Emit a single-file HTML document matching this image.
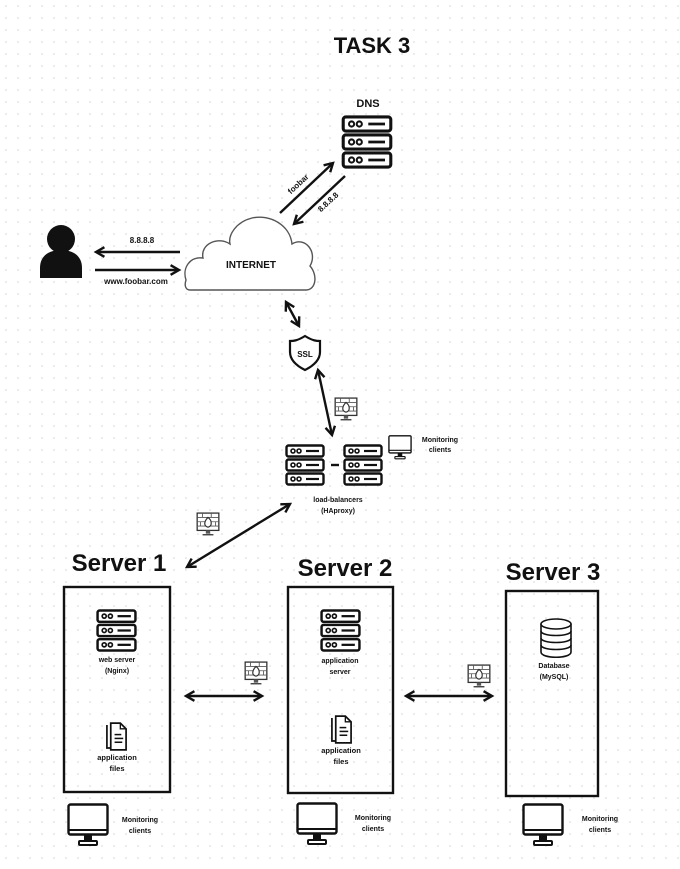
<!DOCTYPE html>
<html><head><meta charset="utf-8"><style>
html,body{margin:0;padding:0;background:#fff}
svg{display:block}
text{font-family:"Liberation Sans",sans-serif;font-weight:bold;fill:#111}
</style></head><body>
<svg width="680" height="869" viewBox="0 0 680 869" xmlns="http://www.w3.org/2000/svg">
<defs>
<pattern id="dots" width="12" height="12" patternUnits="userSpaceOnUse"><circle cx="6" cy="6" r="0.8" fill="#d4d4d4"/></pattern>
<marker id="ah" viewBox="0 0 10 10" refX="8" refY="5" markerWidth="5" markerHeight="5" orient="auto-start-reverse"><path d="M1,1 L8,5 L1,9" fill="none" stroke="#111" stroke-width="2"/></marker>
<symbol id="srv" viewBox="0 0 40 42">
<g fill="#fff" stroke="#111" stroke-width="2.4">
<rect x="1.5" y="1.5" width="37" height="11" rx="2"/>
<rect x="1.5" y="15.5" width="37" height="11" rx="2"/>
<rect x="1.5" y="29.5" width="37" height="11" rx="2"/>
</g>
<g fill="none" stroke="#111" stroke-width="1.6">
<circle cx="8" cy="7" r="2"/><circle cx="14" cy="7" r="2"/>
<circle cx="8" cy="21" r="2"/><circle cx="14" cy="21" r="2"/>
<circle cx="8" cy="35" r="2"/><circle cx="14" cy="35" r="2"/>
</g>
<g stroke="#111" stroke-width="2.2"><line x1="21" y1="7" x2="34" y2="7"/><line x1="21" y1="21" x2="34" y2="21"/><line x1="21" y1="35" x2="34" y2="35"/></g>
</symbol>
<symbol id="mon" viewBox="0 0 42 44">
<rect x="1.5" y="1.5" width="39" height="30" rx="2" fill="#fff" stroke="#111" stroke-width="2.4"/>
<line x1="2" y1="27" x2="40" y2="27" stroke="#111" stroke-width="2"/>
<rect x="17" y="32" width="8" height="6" fill="#111"/>
<rect x="12" y="38" width="18" height="4" rx="1" fill="none" stroke="#111" stroke-width="2"/>
</symbol>
<symbol id="fw" viewBox="0 0 24 24">
<rect x="2" y="1" width="20" height="16" fill="#fff" stroke="#333" stroke-width="1.2"/>
<g stroke="#555" stroke-width="0.8"><line x1="2" y1="5" x2="22" y2="5"/><line x1="2" y1="9" x2="22" y2="9"/><line x1="2" y1="13" x2="22" y2="13"/><line x1="7" y1="1" x2="7" y2="5"/><line x1="15" y1="1" x2="15" y2="5"/><line x1="11" y1="5" x2="11" y2="9"/><line x1="5" y1="9" x2="5" y2="13"/><line x1="19" y1="9" x2="19" y2="13"/></g>
<path d="M12,5 C16,8 16,13 12,14 C8,13 8,9 12,5Z" fill="#fff" stroke="#333" stroke-width="1.1"/>
<rect x="10" y="17" width="4" height="3" fill="#555"/><line x1="7" y1="21" x2="17" y2="21" stroke="#333" stroke-width="1.2"/>
</symbol>
<symbol id="doc" viewBox="0 0 24 30">
<path d="M2,3 L2,27 L17,27" fill="none" stroke="#111" stroke-width="1.8"/>
<path d="M6,1 L16,1 L22,7 L22,29 L6,29 Z" fill="#fff" stroke="#111" stroke-width="1.8"/>
<path d="M16,1 L16,7 L22,7" fill="none" stroke="#111" stroke-width="1.4"/>
<g stroke="#111" stroke-width="1.6"><line x1="10" y1="13" x2="17" y2="13"/><line x1="10" y1="17" x2="19" y2="17"/><line x1="10" y1="21" x2="18" y2="21"/></g>
</symbol>
</defs>
<rect width="680" height="869" fill="url(#dots)"/>

<text x="372" y="53" font-size="22" text-anchor="middle">TASK 3</text>

<!-- DNS -->
<text x="368" y="107" font-size="11" text-anchor="middle">DNS</text>
<use href="#srv" x="340" y="115" width="54" height="54"/>
<g stroke="#111" stroke-width="2.4" fill="none">
<line x1="280" y1="213" x2="333" y2="163" marker-end="url(#ah)"/>
<line x1="345" y1="176" x2="294" y2="224" marker-end="url(#ah)"/>
</g>
<text transform="translate(300,186) rotate(-43)" font-size="8" text-anchor="middle">foobar</text>
<text transform="translate(330,204) rotate(-43)" font-size="8" text-anchor="middle">8.8.8.8</text>

<!-- person -->
<circle cx="61" cy="239" r="14" fill="#111"/>
<path d="M40,278 L40,268 C40,255 50,250 61,250 C72,250 82,255 82,268 L82,278 Z" fill="#111"/>
<g stroke="#111" stroke-width="2.4" fill="none">
<line x1="180" y1="252" x2="96" y2="252" marker-end="url(#ah)"/>
<line x1="95" y1="270" x2="179" y2="270" marker-end="url(#ah)"/>
</g>
<text x="142" y="243" font-size="8" text-anchor="middle">8.8.8.8</text>
<text x="136" y="284" font-size="8" text-anchor="middle">www.foobar.com</text>

<!-- cloud -->
<path d="M190,290 L306,290 C316,290 318,275 310,266 C318,252 305,236 292,244 C290,225 270,214 252,218 C236,222 228,235 230,244 C218,236 200,244 203,258 C190,256 182,268 186,280 C184,286 186,290 190,290 Z" fill="#fff" stroke="#555" stroke-width="1.4"/>
<text x="251" y="268" font-size="10" text-anchor="middle">INTERNET</text>

<line x1="286" y1="302" x2="299" y2="326" stroke="#111" stroke-width="2.4" marker-start="url(#ah)" marker-end="url(#ah)"/>

<!-- SSL -->
<path d="M305,336 C297,341 293,341 290,341 L290,352 C290,360 297,366 305,370 C313,366 320,360 320,352 L320,341 C317,341 313,341 305,336 Z" fill="#fff" stroke="#111" stroke-width="2.2"/>
<text x="305" y="357" font-size="8" text-anchor="middle">SSL</text>

<line x1="318" y1="370" x2="332" y2="435" stroke="#111" stroke-width="2.4" marker-start="url(#ah)" marker-end="url(#ah)"/>
<use href="#fw" x="333" y="397" width="26" height="26"/>

<!-- LB -->
<use href="#srv" x="285" y="444" width="40" height="42"/>
<use href="#srv" x="343" y="444" width="40" height="42"/>
<line x1="331" y1="465" x2="339" y2="465" stroke="#111" stroke-width="2.4"/>
<use href="#mon" x="388" y="435" width="24" height="25"/>
<text x="440" y="442" font-size="7" text-anchor="middle">Monitoring</text>
<text x="440" y="452" font-size="7" text-anchor="middle">clients</text>
<text x="338" y="502" font-size="7" text-anchor="middle">load-balancers</text>
<text x="338" y="513" font-size="7" text-anchor="middle">(HAproxy)</text>

<use href="#fw" x="195" y="512" width="26" height="26"/>
<line x1="187" y1="567" x2="290" y2="504" stroke="#111" stroke-width="2.4" marker-start="url(#ah)" marker-end="url(#ah)"/>

<!-- Servers -->
<text x="119" y="571" font-size="24" text-anchor="middle">Server 1</text>
<text x="345" y="576" font-size="24" text-anchor="middle">Server 2</text>
<text x="553" y="580" font-size="24" text-anchor="middle">Server 3</text>
<g fill="none" stroke="#111" stroke-width="2.4">
<rect x="64" y="587" width="106" height="205"/>
<rect x="288" y="587" width="105" height="206"/>
<rect x="506" y="591" width="92" height="205"/>
</g>

<use href="#srv" x="96" y="609" width="41" height="43"/>
<text x="117" y="662" font-size="7" text-anchor="middle">web server</text>
<text x="117" y="673" font-size="7" text-anchor="middle">(Nginx)</text>
<use href="#doc" x="105" y="722" width="23" height="29"/>
<text x="117" y="760" font-size="7.5" text-anchor="middle">application</text>
<text x="117" y="771" font-size="7.5" text-anchor="middle">files</text>

<line x1="186" y1="696" x2="262" y2="696" stroke="#111" stroke-width="2.4" marker-start="url(#ah)" marker-end="url(#ah)"/>
<use href="#fw" x="243" y="661" width="26" height="26"/>

<use href="#srv" x="320" y="609" width="41" height="43"/>
<text x="340" y="663" font-size="7" text-anchor="middle">application</text>
<text x="340" y="674" font-size="7" text-anchor="middle">server</text>
<use href="#doc" x="330" y="715" width="23" height="29"/>
<text x="341" y="753" font-size="7.5" text-anchor="middle">application</text>
<text x="341" y="764" font-size="7.5" text-anchor="middle">files</text>

<line x1="406" y1="696" x2="492" y2="696" stroke="#111" stroke-width="2.4" marker-start="url(#ah)" marker-end="url(#ah)"/>
<use href="#fw" x="466" y="664" width="26" height="26"/>

<!-- DB -->
<g fill="#fff" stroke="#111" stroke-width="1.6">
<path d="M541,624 L541,652 C541,659 571,659 571,652 L571,624"/>
<ellipse cx="556" cy="624" rx="15" ry="5"/>
<path d="M541,631 C541,637 571,637 571,631 M541,638 C541,644 571,644 571,638 M541,645 C541,651 571,651 571,645" fill="none"/>
</g>
<text x="554" y="668" font-size="7" text-anchor="middle">Database</text>
<text x="554" y="679" font-size="7" text-anchor="middle">(MySQL)</text>

<!-- monitors -->
<use href="#mon" x="67" y="803" width="42" height="44"/>
<text x="140" y="822" font-size="7" text-anchor="middle">Monitoring</text>
<text x="140" y="833" font-size="7" text-anchor="middle">clients</text>
<use href="#mon" x="296" y="802" width="42" height="44"/>
<text x="373" y="820" font-size="7" text-anchor="middle">Monitoring</text>
<text x="373" y="831" font-size="7" text-anchor="middle">clients</text>
<use href="#mon" x="522" y="803" width="42" height="44"/>
<text x="600" y="821" font-size="7" text-anchor="middle">Monitoring</text>
<text x="600" y="832" font-size="7" text-anchor="middle">clients</text>
</svg>
</body></html>
